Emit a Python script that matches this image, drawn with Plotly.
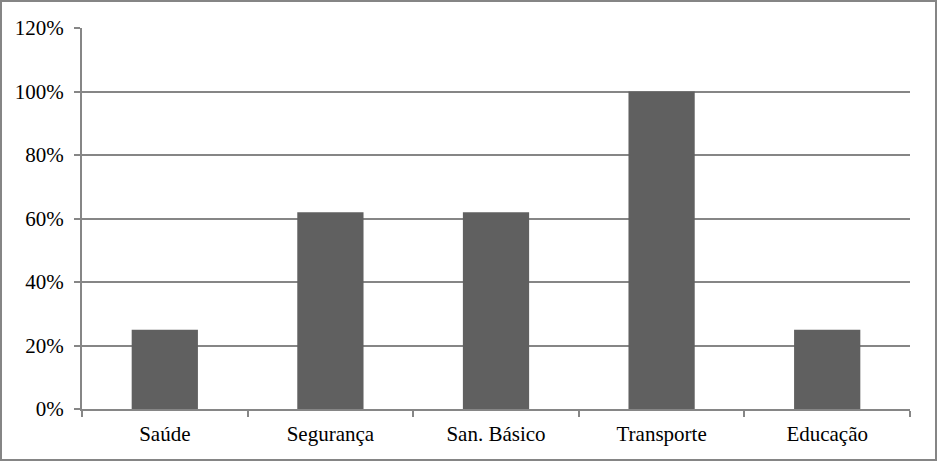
import plotly.graph_objects as go

categories = ["Saúde", "Segurança", "San. Básico", "Transporte", "Educação"]
values = [0.25, 0.62, 0.62, 1.00, 0.25]
y_ticks = [0, 0.2, 0.4, 0.6, 0.8, 1.0, 1.2]
y_tick_labels = ["0%", "20%", "40%", "60%", "80%", "100%", "120%"]

W, H = 937, 461
L, R, T, B = 82, 27, 28, 52
pw, ph = W - L - R, H - T - B

fig = go.Figure()
fig.add_trace(go.Bar(x=categories, y=values, marker_color="#606060",
                     marker_line_width=0))

fig.update_layout(
    width=W, height=H,
    margin=dict(l=L, r=R, t=T, b=B),
    paper_bgcolor="white", plot_bgcolor="white",
    bargap=0.6, showlegend=False,
    font=dict(family="Liberation Serif, Times New Roman, serif", size=21,
              color="black"),
    shapes=[dict(type="rect", xref="paper", yref="paper",
                 x0=-(L - 1) / pw, x1=1 + (R - 1) / pw,
                 y0=-(B - 1) / ph, y1=1 + (T - 1) / ph,
                 line=dict(color="#858585", width=2))],
)
fig.update_xaxes(showline=True, linecolor="#868686", linewidth=2,
                 ticks="outside", tickson="boundaries", ticklen=6,
                 tickcolor="#868686", tickwidth=2, showgrid=False,
                 ticklabelstandoff=5)
fig.update_yaxes(range=[0, 1.2], tickvals=y_ticks, ticktext=y_tick_labels,
                 showline=True, linecolor="#868686", linewidth=2,
                 ticks="outside", ticklen=6, tickcolor="#868686", tickwidth=2,
                 showgrid=True, gridcolor="#868686", gridwidth=2,
                 zeroline=False, ticklabelstandoff=6)

fig.write_html("out.html", config={"displayModeBar": False},
               post_script="document.body.style.margin='0';"
                           "document.body.style.overflow='hidden';")
